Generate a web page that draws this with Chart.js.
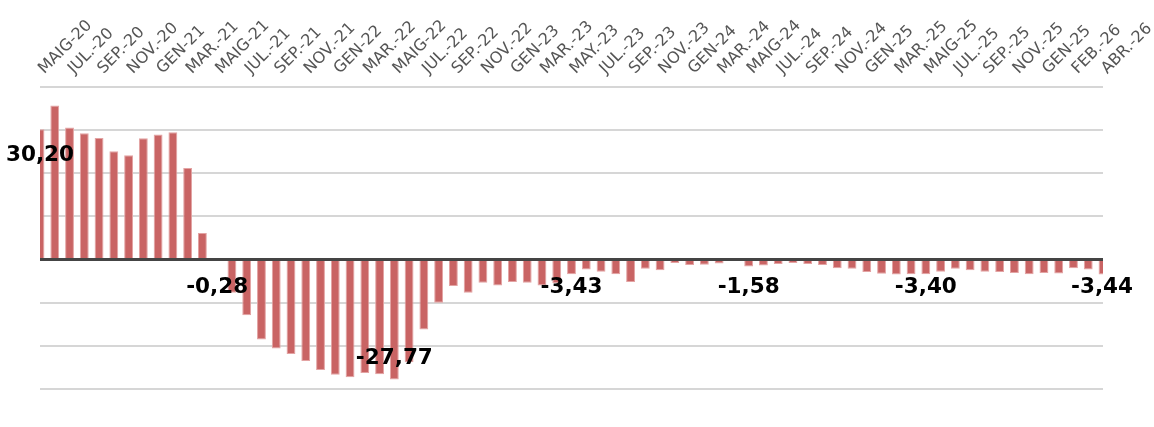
<!DOCTYPE html>
<html>
<head>
<meta charset="utf-8">
<script src="https://cdn.jsdelivr.net/npm/chart.js@4/dist/chart.umd.min.js"></script>
<style>
html,body{margin:0;padding:0;background:#fff;}
#wrap{width:1154px;height:427px;position:relative;}
</style>
</head>
<body>
<div id="wrap"><canvas id="c"></canvas></div>
<script>
const categories = [
 "MAIG-20","JUN.-20","JUL.-20","AGO.-20","SEP.-20","OCT.-20","NOV.-20","DES.-20",
 "GEN-21","FEB.-21","MAR.-21","ABR.-21","MAIG-21","JUN.-21","JUL.-21","AGO.-21",
 "SEP.-21","OCT.-21","NOV.-21","DES.-21","GEN-22","FEB.-22","MAR.-22","ABR.-22",
 "MAIG-22","JUN.-22","JUL.-22","AGO.-22","SEP.-22","OCT.-22","NOV.-22","DES.-22",
 "GEN-23","FEB.-23","MAR.-23","ABR.-23","MAY.-23","JUN.-23","JUL.-23","AGO.-23",
 "SEP.-23","OCT.-23","NOV.-23","DES.-23","GEN-24","FEB.-24","MAR.-24","ABR.-24",
 "MAIG-24","JUN.-24","JUL.-24","AGO.-24","SEP.-24","OCT.-24","NOV.-24","DES.-24",
 "GEN-25","FEB.-25","MAR.-25","ABR.-25","MAIG-25","JUN.-25","JUL.-25","AGO.-25",
 "SEP.-25","OCT.-25","NOV.-25","DES.-25","GEN-25","GEN-26","FEB.-26","MAR.-26",
 "ABR.-26"
];
const values = [
 30.20, 35.7, 30.6, 29.3, 28.2, 25.1, 24.2, 28.1,
 29.0, 29.5, 21.2, 6.15, -0.28, -7.7, -12.9, -18.5,
 -20.6, -21.9, -23.5, -25.6, -26.7, -27.3, -26.3, -26.6,
 -27.77, -23.8, -16.2, -10.0, -6.15, -7.7, -5.4, -6.0,
 -5.2, -5.4, -6.0, -5.5, -3.43, -2.3, -2.85, -3.4,
 -5.2, -2.15, -2.45, -0.77, -1.23, -1.2, -0.9, -0.1,
 -1.58, -1.4, -1.0, -0.77, -1.0, -1.23, -2.0, -2.15,
 -2.9, -3.3, -3.45, -3.4, -3.40, -2.85, -2.15, -2.45,
 -2.85, -2.9, -3.1, -3.4, -3.1, -3.2, -2.0, -2.3,
 -3.44
];
const labelledIdx = [0, 12, 24, 36, 48, 60, 72];
const yTicks = { min: -30, max: 40, step: 10 };

const overlay = {
  id: 'overlay',
  afterDatasetsDraw(chart) {
    const {ctx, chartArea, scales} = chart;
    const y0 = scales.y.getPixelForValue(0);
    ctx.save();
    ctx.strokeStyle = '#444444';
    ctx.lineWidth = 3;
    ctx.beginPath();
    ctx.moveTo(chartArea.left, y0);
    ctx.lineTo(chartArea.right, y0);
    ctx.stroke();
    ctx.font = 'bold 21.5px "DejaVu Sans"';
    ctx.fillStyle = '#000';
    ctx.textAlign = 'center';
    ctx.textBaseline = 'middle';
    labelledIdx.forEach(i => {
      const v = values[i];
      const x = scales.x.getPixelForValue(i);
      const py = scales.y.getPixelForValue(v);
      let y;
      if (v >= 0) y = Math.min(py + 26, y0 - 26);
      else y = Math.max(py - 21, y0 + 28);
      const txt = v.toFixed(2).replace('.', ',');
      const w = ctx.measureText(txt).width;
      const xx = Math.min(x, chart.width - w / 2 - 21);
      ctx.fillText(txt, xx, y);
    });
    ctx.restore();
  }
};

new Chart(document.getElementById('c'), {
  type: 'bar',
  data: {
    labels: categories,
    datasets: [{
      data: values,
      backgroundColor: '#c96464',
      borderColor: '#e3a3a3',
      borderWidth: 1,
      barPercentage: 0.6,
      categoryPercentage: 1.0
    }]
  },
  options: {
    responsive: true,
    maintainAspectRatio: false,
    animation: false,
    layout: { padding: { left: 40, right: 51, top: 0, bottom: 38 } },
    plugins: { legend: { display: false }, tooltip: { enabled: false } },
    scales: {
      x: {
        position: 'top',
        offset: false,
        grid: { display: false, drawTicks: false },
        border: { display: false },
        afterFit(axis) {
          axis.height = 87;
          axis.paddingLeft = 0;
          axis.paddingRight = 0;
        },
        ticks: {
          autoSkip: false,
          minRotation: 45,
          maxRotation: 45,
          padding: 9,
          labelOffset: 15,
          color: '#555555',
          font: { family: '"DejaVu Sans"', size: 16 },
          callback(val, idx) { return idx % 2 === 0 ? categories[idx] : ''; }
        }
      },
      y: {
        min: yTicks.min,
        max: yTicks.max,
        border: { display: false },
        grid: {
          drawTicks: false,
          lineWidth: 2,
          color: (c) => c.tick && c.tick.value === 0 ? 'rgba(0,0,0,0)' : '#d6d6d6'
        },
        afterFit(axis) { axis.width = 0; },
        ticks: { display: false, stepSize: yTicks.step }
      }
    }
  },
  plugins: [overlay]
});
</script>
</body>
</html>
